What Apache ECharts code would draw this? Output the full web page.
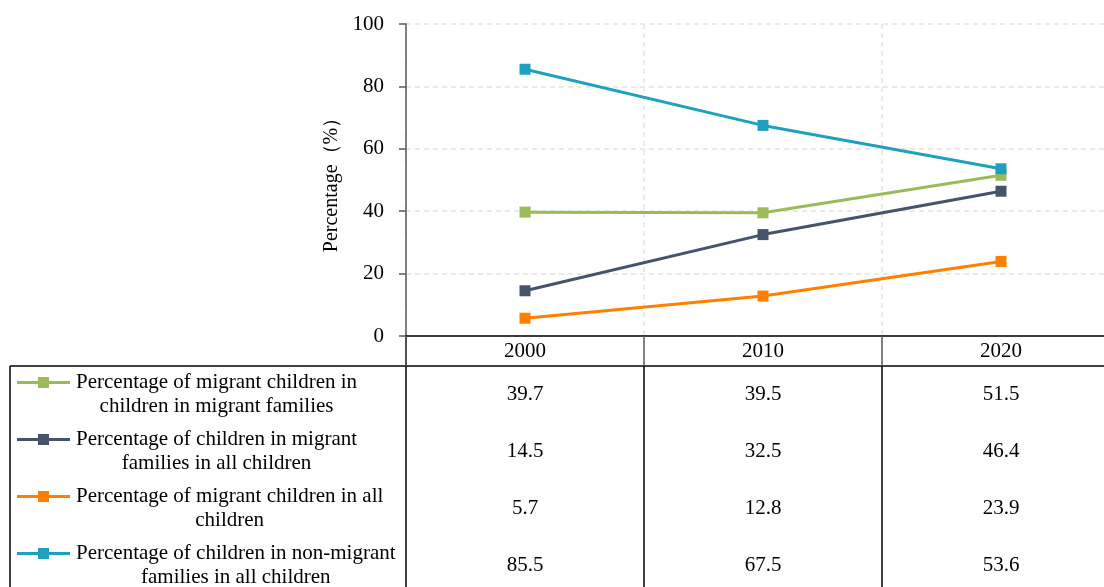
<!DOCTYPE html>
<html>
<head>
<meta charset="utf-8">
<script src="https://cdn.jsdelivr.net/npm/echarts@6/dist/echarts.min.js"></script>
<style>
html,body{margin:0;padding:0;background:#fff;overflow:hidden;width:1104px;height:587px;}
#chart{width:1120px;height:587px;}
</style>
</head>
<body>
<div id="chart"></div>
<script>
const years = ['2000', '2010', '2020'];
const seriesNames = [
  'Percentage of migrant children in children in migrant families',
  'Percentage of children in migrant families in all children',
  'Percentage of migrant children in all children',
  'Percentage of children in non-migrant families in all children'
];
const migrantInMigrantFamilies = [39.7, 39.5, 51.5];
const migrantFamiliesInAll = [14.5, 32.5, 46.4];
const migrantInAll = [5.7, 12.8, 23.9];
const nonMigrantFamiliesInAll = [85.5, 67.5, 53.6];
const seriesValues = [migrantInMigrantFamilies, migrantFamiliesInAll, migrantInAll, nonMigrantFamiliesInAll];
const colors = ['#9BBB59', '#44546A', '#FF8000', '#1FA0BF'];
const yTicks = [0, 20, 40, 60, 80, 100];

const FONT = "'Liberation Serif', 'Times New Roman', serif";
const FS = 21;

const chart = echarts.init(document.getElementById('chart'), null, {renderer: 'canvas'});

const option = {
  animation: false,
  backgroundColor: '#fff',
  grid: {left: 406, top: 24, right: 0, height: 312, containLabel: false},
  xAxis: {
    type: 'category',
    data: years,
    boundaryGap: true,
    axisLine: {show: true, lineStyle: {color: '#000', width: 1.5}},
    axisTick: {show: true, inside: false, length: 30, lineStyle: {color: '#595959', width: 1.5}},
    axisLabel: {color: '#000', fontFamily: FONT, fontSize: FS, margin: 5},
    splitLine: {show: true, lineStyle: {color: '#e3e3e3', type: [5, 4], width: 1.5}}
  },
  yAxis: {
    type: 'value',
    min: yTicks[0],
    max: yTicks[yTicks.length - 1],
    interval: yTicks[1] - yTicks[0],
    name: 'Percentage（%）',
    nameLocation: 'middle',
    nameGap: 64,
    nameTextStyle: {color: '#000', fontFamily: FONT, fontSize: 20},
    axisLine: {show: true, lineStyle: {color: '#595959', width: 1.5}},
    axisTick: {show: true, inside: false, length: 7, lineStyle: {color: '#595959', width: 1.5}},
    axisLabel: {color: '#000', fontFamily: FONT, fontSize: FS, margin: 22},
    splitLine: {show: true, lineStyle: {color: '#e3e3e3', type: [5, 4], width: 1.5}}
  },
  series: seriesNames.map((n, i) => ({
    name: n,
    type: 'line',
    data: seriesValues[i],
    symbol: 'rect',
    symbolSize: 11,
    showSymbol: true,
    lineStyle: {color: colors[i], width: 3},
    itemStyle: {color: colors[i]},
    z: 3
  }))
};
chart.setOption(option);

// Build data table below the axis
const ctx = document.createElement('canvas').getContext('2d');
ctx.font = FS + 'px ' + FONT;
function wrap(text, maxW) {
  const words = text.split(' ');
  const lines = [];
  let cur = '';
  words.forEach(w => {
    const t = cur ? cur + ' ' + w : w;
    if (ctx.measureText(t).width > maxW && cur) { lines.push(cur); cur = w; }
    else cur = t;
  });
  if (cur) lines.push(cur);
  return lines;
}

const xs = years.map(y => chart.convertToPixel({xAxisIndex: 0}, y));
const band = xs[1] - xs[0];
const axisX = xs[0] - band / 2;
const axisY = chart.convertToPixel({yAxisIndex: 0}, 0);
const headerBottom = axisY + 30;
const rowH = 57;
const tableLeft = 10;
const H = 587, W = 1120;
const blk = {stroke: '#000', lineWidth: 1.5};

const g = [];
g.push({type: 'line', shape: {x1: tableLeft, y1: headerBottom, x2: W, y2: headerBottom}, style: blk});
g.push({type: 'line', shape: {x1: tableLeft, y1: headerBottom, x2: tableLeft, y2: H}, style: blk});
g.push({type: 'line', shape: {x1: axisX, y1: axisY, x2: axisX, y2: H}, style: blk});
for (let k = 1; k < years.length; k++) {
  const bx = xs[k] - band / 2;
  g.push({type: 'line', shape: {x1: bx, y1: headerBottom, x2: bx, y2: H}, style: blk});
}
seriesNames.forEach((n, i) => {
  const cy = headerBottom + rowH * i + rowH / 2;
  const lines = wrap(n, 335);
  const maxW = Math.max(...lines.map(l => ctx.measureText(l).width));
  const firstY = cy - (lines.length - 1) * 24 / 2;
  g.push({type: 'line', shape: {x1: 17, y1: firstY, x2: 70, y2: firstY}, style: {stroke: colors[i], lineWidth: 3}});
  g.push({type: 'rect', shape: {x: 43.5 - 5.5, y: firstY - 5.5, width: 11, height: 11}, style: {fill: colors[i]}});
  g.push({type: 'text', style: {text: lines.join('\n'), x: 76 + maxW / 2, y: cy, align: 'center', verticalAlign: 'middle',
    font: FS + 'px ' + FONT, lineHeight: 24, fill: '#000'}});
  seriesValues[i].forEach((v, j) => {
    g.push({type: 'text', style: {text: v.toFixed(1), x: xs[j], y: cy, align: 'center', verticalAlign: 'middle',
      font: FS + 'px ' + FONT, fill: '#000'}});
  });
});
chart.setOption({graphic: {elements: g}});
</script>
</body>
</html>
